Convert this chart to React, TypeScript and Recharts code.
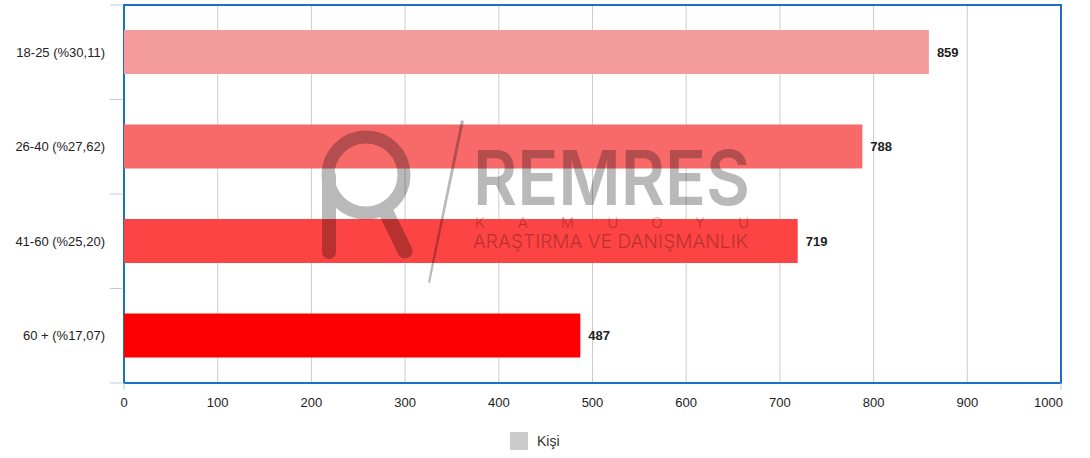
import React from 'react';
import { BarChart, Bar, XAxis, YAxis, CartesianGrid, Cell, LabelList, Legend, ReferenceArea } from 'recharts';

const categories = ['18-25 (%30,11)', '26-40 (%27,62)', '41-60 (%25,20)', '60 + (%17,07)'];
const values = [859, 788, 719, 487];
const barColors = ['#f49c9c', '#f86a6a', '#fd4444', '#fa0000'];
const xTicks = [0, 100, 200, 300, 400, 500, 600, 700, 800, 900, 1000];
const seriesName = 'Kişi';

const data = categories.map((name, i) => ({ name, value: values[i] }));

const FONT = '"Liberation Sans", Arial, sans-serif';
const BLUE = '#1a6fc9';
const TICK_BLUE = '#b5cde8';

const YTick = (props: any) => {
  const { x, y, payload, index, height } = props;
  const h = typeof height === 'number' && height > 0 ? height : 378;
  const half = h / categories.length / 2;
  const last = index === categories.length - 1;
  return (
    <g>
      <text x={x + 1} y={y} dy="0.355em" textAnchor="end" fontSize={13} fill="#222" fontFamily={FONT}>
        {payload.value}
      </text>
      <line x1={x + 6} x2={x + 18} y1={y - half} y2={y - half} stroke={TICK_BLUE} strokeWidth={1} />
      {last && <line x1={x + 6} x2={x + 18} y1={y + half} y2={y + half} stroke={TICK_BLUE} strokeWidth={1} />}
    </g>
  );
};

const XTick = (props: any) => {
  const { x, y, payload, index } = props;
  const lastIdx = xTicks.length - 1;
  const edge = index === 0 || index === lastIdx;
  return (
    <g>
      {edge && <line x1={x} x2={x} y1={y - 15} y2={y - 8} stroke={TICK_BLUE} strokeWidth={1} />}
      <text
        x={index === lastIdx ? x + 2 : x}
        y={y}
        dy="0.71em"
        textAnchor={index === lastIdx ? 'end' : 'middle'}
        fontSize={13}
        fill="#222"
        fontFamily={FONT}
      >
        {payload.value}
      </text>
    </g>
  );
};

const LegendContent = () => (
  <div style={{ height: 40, position: 'relative' }}>
    <div style={{ position: 'absolute', left: 510, top: 14, display: 'flex', alignItems: 'center' }}>
      <span style={{ width: 18, height: 18, background: '#cccccc', display: 'inline-block' }} />
      <span style={{ marginLeft: 9, fontSize: 14, color: '#333', fontFamily: FONT }}>{seriesName}</span>
    </div>
  </div>
);

const Watermark = () => (
  <svg width={1090} height={458} style={{ position: 'absolute', left: 0, top: 0, pointerEvents: 'none' }}>
    <g opacity={0.27} fill="#000" stroke="#000">
      <circle cx={366} cy={175} r={38} fill="none" strokeWidth={13} />
      <line x1={329} y1={176} x2={329} y2={252} strokeWidth={14} strokeLinecap="round" />
      <line x1={386} y1={212} x2={405} y2={251} strokeWidth={15} strokeLinecap="round" />
      <polygon points="461,120 464,121 430,283 428,282" stroke="none" />
    </g>
    <g opacity={0.27} fill="#000">
      <text x={473} y={205} fontSize={76} fontWeight={600} fontFamily="Inter, Roboto, sans-serif" textLength={277} lengthAdjust="spacingAndGlyphs">
        REMRES
      </text>
      <text x={475} y={228} fontSize={15} fontWeight={300} fontFamily="Inter, Roboto, sans-serif" textLength={274} lengthAdjust="spacing">
        KAMUOYU
      </text>
      <text x={473} y={248} fontSize={19} fontWeight={300} fontFamily="Inter, Roboto, sans-serif" textLength={275} lengthAdjust="spacing">
        ARAŞTIRMA VE DANIŞMANLIK
      </text>
    </g>
  </svg>
);

export default function App() {
  return (
    <div style={{ position: 'absolute', left: 0, top: 0, width: 1090, height: 458, background: '#fff', fontFamily: FONT }}>
      <BarChart
        width={1090}
        height={458}
        data={data}
        layout="vertical"
        margin={{ top: 5, right: 29, bottom: 0, left: 0 }}
      >
        <CartesianGrid horizontal={false} stroke="#cccccc" />
        <XAxis
          type="number"
          domain={[0, 1000]}
          ticks={xTicks}
          interval={0}
          axisLine={false}
          tickLine={false}
          tickSize={6}
          tickMargin={9}
          height={35}
          tick={<XTick />}
        />
        <YAxis
          type="category"
          dataKey="name"
          width={124}
          axisLine={false}
          tickLine={false}
          tickSize={0}
          tickMargin={20}
          tick={<YTick />}
        />
        <Legend verticalAlign="bottom" height={40} content={<LegendContent />} />
        <Bar dataKey="value" name={seriesName} fill="#cccccc" barSize={44} isAnimationActive={false}>
          {data.map((d, i) => (
            <Cell key={d.name} fill={barColors[i]} />
          ))}
          <LabelList dataKey="value" position="right" offset={8} fill="#222" fontSize={13} fontWeight="bold" fontFamily={FONT} />
        </Bar>
        <ReferenceArea x1={0} x2={1000} fill="none" fillOpacity={0} stroke={BLUE} strokeWidth={2} strokeOpacity={1} ifOverflow="visible" />
      </BarChart>
      <Watermark />
    </div>
  );
}
